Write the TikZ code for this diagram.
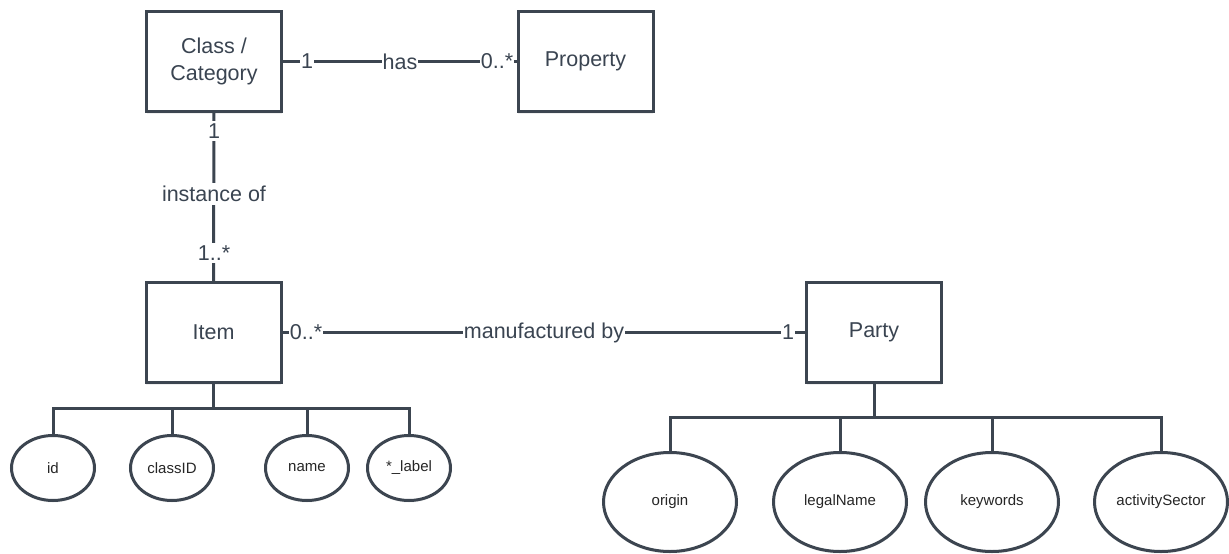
\documentclass[tikz,border=0pt]{standalone}
\usepackage{fontspec}
\setmainfont{Liberation Sans}
\usetikzlibrary{shapes.geometric,shadows}
\definecolor{ink}{HTML}{3C4550}
\definecolor{txt}{HTML}{3A4451}
\begin{document}
\begin{tikzpicture}[x=1pt,y=-1pt,
  wire/.style={draw=ink, line width=3pt},
  entity/.style={draw=ink, line width=3pt, fill=white, rectangle,
    minimum width=135pt, minimum height=100pt, inner sep=0pt,
    align=center, text=txt, font=\fontsize{21.5}{27}\selectfont,
    drop shadow={shadow xshift=0pt, shadow yshift=-2pt, opacity=0.12}},
  attr/.style={draw=ink, line width=3pt, fill=white, ellipse, inner sep=0pt,
    text=black!85, font=\fontsize{15}{17}\selectfont,
    drop shadow={shadow xshift=0pt, shadow yshift=-2pt, opacity=0.12}},
  smallattr/.style={attr, minimum width=83pt, minimum height=65pt},
  bigattr/.style={attr, minimum width=133pt, minimum height=99pt},
  lbl/.style={fill=white, inner sep=0.8pt, text=txt,
    font=\fontsize{21.5}{25}\selectfont},
]
\useasboundingbox[fill=white] (0,0) rectangle (1229,554);

% entities
\node[entity] (cls)   at (214,61.5)    {Class /\\Category};
\node[entity] (prop)  at (585.5,61.5)  {Property};
\node[entity] (item)  at (213.5,332.5) {Item};
\node[entity] (party) at (874,332.5)   {Party};

% relationships with their multiplicities
\draw[wire] (cls) -- (prop);
\node[lbl] (hasA) at (307,61.5) {1};
\node[lbl] (hasR) at (400,61.5) {has};
\node[lbl] (hasB) at (497,61.5) {0..*};

\draw[wire] (cls) -- (item);
\node[lbl, inner ysep=3pt] (insA) at (214,131) {1};
\node[lbl, inner ysep=3pt] (insR) at (214,194) {instance of};
\node[lbl, inner ysep=3pt] (insB) at (214,253) {1..*};

\draw[wire] (item) -- (party);
\node[lbl] (mfgA) at (306,332.5) {0..*};
\node[lbl] (mfgR) at (544,332.5) {manufactured by};
\node[lbl] (mfgB) at (788,332.5) {1};

% attributes of Item
\coordinate (ibus) at (213.5,408);
\node[smallattr] (id)      at (53,468)  {id};
\node[smallattr] (classid) at (172,468) {classID};
\node[smallattr] (name)    at (307,468) {name};
\node[smallattr] (lab)     at (409,468) {*\_label};
\draw[wire] (item.south) -- (ibus);
\foreach \a in {id,classid,name,lab}
  \draw[wire] (\a.north) |- (ibus);

% attributes of Party
\coordinate (pbus) at (874,417);
\node[bigattr] (origin)  at (670,502)  {origin};
\node[bigattr] (legal)   at (840,502)  {legalName};
\node[bigattr] (keys)    at (992,502)  {keywords};
\node[bigattr] (sector)  at (1161,502) {activitySector};
\draw[wire] (party.south) -- (pbus);
\foreach \a in {origin,legal,keys,sector}
  \draw[wire] (\a.north) |- (pbus);
\end{tikzpicture}
\end{document}
